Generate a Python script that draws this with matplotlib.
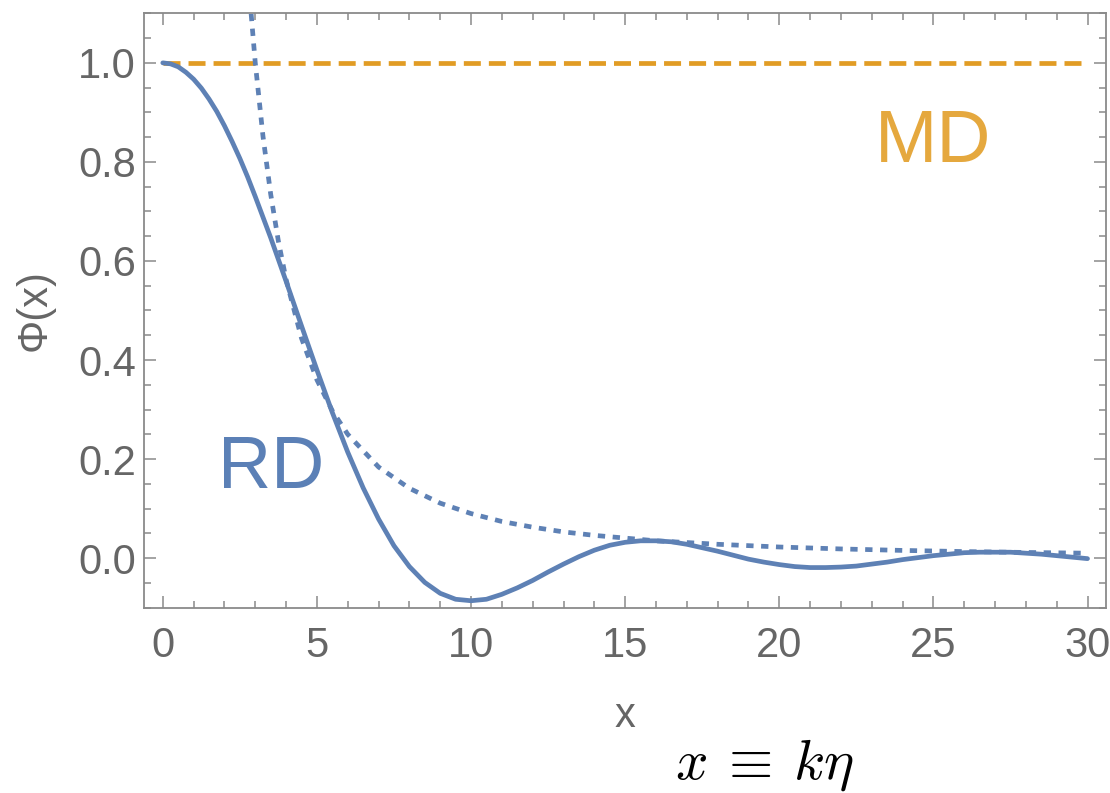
import matplotlib
matplotlib.use('Agg')
import matplotlib.pyplot as plt
from matplotlib.ticker import MultipleLocator

plt.rcParams['font.family'] = ['Liberation Sans', 'DejaVu Sans']
plt.rcParams['mathtext.fontset'] = 'cm'

# data
x_rd = [0, 0.25, 0.5, 0.75, 1, 1.25, 1.5, 1.75, 2, 2.25, 2.5, 2.75, 3, 3.5,
        4, 4.5, 5, 5.5, 6, 6.5, 7, 7.5, 8, 8.5, 9, 9.5, 10, 10.5, 11, 11.5,
        12, 12.5, 13, 13.5, 14, 14.5, 15, 15.5, 16, 16.5, 17, 17.5, 18, 18.5,
        19, 19.5, 20, 20.5, 21, 21.5, 22, 22.5, 23, 23.5, 24, 24.5, 25, 25.5,
        26, 26.5, 27, 27.5, 28, 28.5, 29, 29.5, 30]
phi_rd = [1.0, 0.998, 0.992, 0.981, 0.967, 0.949, 0.927, 0.902, 0.873, 0.841,
          0.807, 0.770, 0.730, 0.647, 0.559, 0.469, 0.380, 0.294, 0.214,
          0.142, 0.079, 0.025, -0.017, -0.049, -0.071, -0.083, -0.086,
          -0.083, -0.073, -0.060, -0.045, -0.028, -0.012, 0.003, 0.016,
          0.026, 0.032, 0.035, 0.035, 0.033, 0.028, 0.021, 0.014, 0.006,
          -0.002, -0.008, -0.013, -0.017, -0.019, -0.019, -0.018, -0.016,
          -0.012, -0.008, -0.003, 0.001, 0.005, 0.008, 0.011, 0.012, 0.012,
          0.012, 0.010, 0.008, 0.005, 0.002, -0.001]

x_asym = [2.8, 3, 3.25, 3.5, 3.75, 4, 4.5, 5, 5.5, 6, 7, 8, 9, 10, 11, 12,
          13, 14, 16, 18, 20, 22, 24, 26, 28, 30]
phi_asym = [1.148, 1.0, 0.852, 0.735, 0.64, 0.5625, 0.444, 0.36, 0.2975, 0.25,
            0.184, 0.141, 0.111, 0.09, 0.074, 0.0625, 0.053, 0.046, 0.035,
            0.028, 0.0225, 0.0186, 0.0156, 0.0133, 0.0115, 0.01]

x_md = [0, 30]
phi_md = [1.0, 1.0]

blue = '#5E81B5'
orange = '#E19C24'
gray = '#666666'
frame = '#8a8a8a'

fig = plt.figure(figsize=(11.1, 7.93), dpi=100)
ax = fig.add_axes([0.130, 0.2337, 0.8664, 0.7495])

ax.plot(x_md, phi_md, color=orange, lw=3.4, linestyle=(0, (3.6, 1.7)))
ax.plot(x_asym, phi_asym, color=blue, lw=3.4, linestyle=(0, (1.55, 1.6)))
ax.plot(x_rd, phi_rd, color=blue, lw=3.4, solid_capstyle='round',
        solid_joinstyle='round')

ax.set_xlim(-0.6, 30.6)
ax.set_ylim(-0.1, 1.1)

ax.xaxis.set_major_locator(MultipleLocator(5))
ax.xaxis.set_minor_locator(MultipleLocator(1))
ax.yaxis.set_major_locator(MultipleLocator(0.2))
ax.yaxis.set_minor_locator(MultipleLocator(0.05))
ax.yaxis.set_major_formatter(plt.FuncFormatter(lambda v, p: f'{v:.1f}'))

ax.tick_params(which='both', direction='in', top=True, right=True,
               color=frame, width=1.1)
ax.tick_params(which='major', length=8.5)
ax.tick_params(which='minor', length=5)
ax.tick_params(axis='x', which='major', labelsize=30, labelcolor=gray, pad=13)
ax.tick_params(axis='y', which='major', labelsize=30, labelcolor=gray, pad=6)
for s in ax.spines.values():
    s.set_color(frame)
    s.set_linewidth(1.3)

ax.set_xlabel('x', fontsize=30, color=gray, va='center')
ax.xaxis.set_label_coords(0.5, -0.182)
ax.set_ylabel('Φ(x)', fontsize=30, color=gray, va='center')
ax.yaxis.set_label_coords(-0.1137, 0.5)

ax.text(1.78, 0.141, 'RD', color='#5B80B6', fontsize=53, va='baseline')
ax.text(23.1, 0.80, 'MD', color='#E5A83E', fontsize=54, va='baseline')

fig.text(0.608, 0.018, r'$x\:\equiv\:k\eta$', fontsize=41, color='black',
         va='baseline', ha='left')

fig.savefig('out.png', dpi=100)
